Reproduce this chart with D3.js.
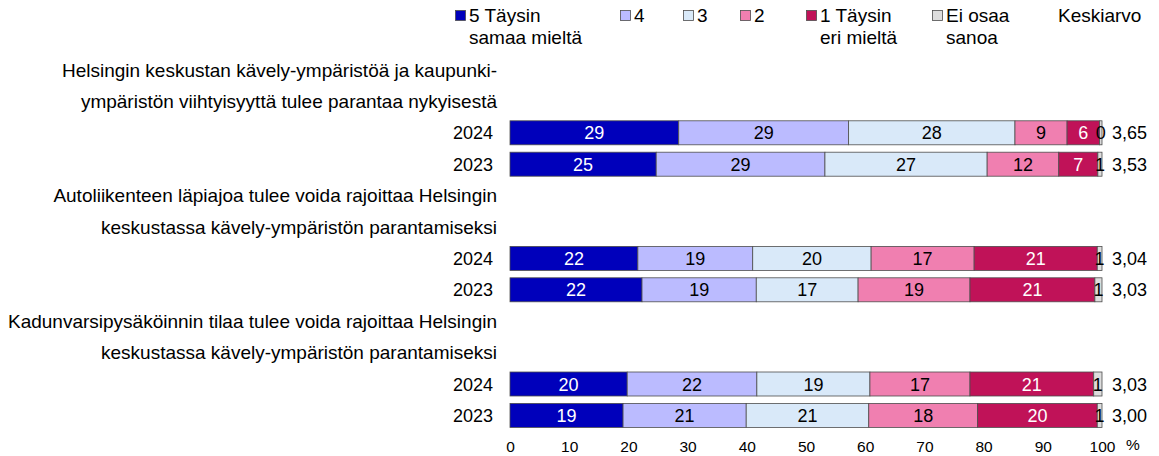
<!DOCTYPE html>
<html>
<head>
<meta charset="utf-8">
<script src="https://cdn.jsdelivr.net/npm/d3@7"></script>
<style>
  body { margin: 0; background: #fff; }
  svg text { font-family: "Liberation Sans", Arial, sans-serif; }
</style>
</head>
<body>
<div id="chart"></div>
<script>
var width = 1159, height = 456;

// answer categories (legend order)
var categories = ["5 Täysin samaa mieltä", "4", "3", "2", "1 Täysin eri mieltä", "Ei osaa sanoa"];
var colors = ["#0000bb", "#bbbbff", "#d9e9f9", "#f07fb0", "#c01258", "#dddddd"];
var whiteText = [true, false, false, false, true, false];

// statements, two text lines each
var statements = [
  ["Helsingin keskustan kävely-ympäristöä ja kaupunki-", "ympäristön viihtyisyyttä tulee parantaa nykyisestä"],
  ["Autoliikenteen läpiajoa tulee voida rajoittaa Helsingin", "keskustassa kävely-ympäristön parantamiseksi"],
  ["Kadunvarsipysäköinnin tilaa tulee voida rajoittaa Helsingin", "keskustassa kävely-ympäristön parantamiseksi"]
];
var years = ["2024", "2023"];

// shares in % (rounded numbers are printed)
var values2024 = [
  [28.5, 28.7, 28.1, 8.8, 5.5, 0.4],
  [21.6, 19.4, 20.0, 17.4, 20.8, 0.8],
  [19.8, 21.9, 19.1, 16.9, 20.9, 1.4]
];
var values2023 = [
  [24.7, 28.5, 27.4, 12.1, 6.6, 0.7],
  [22.3, 19.3, 17.2, 18.9, 21.1, 1.2],
  [19.1, 20.8, 20.7, 18.4, 20.2, 0.8]
];
var means2024 = ["3,65", "3,04", "3,03"];
var means2023 = ["3,53", "3,03", "3,00"];
var xTicks = [0, 10, 20, 30, 40, 50, 60, 70, 80, 90, 100];

var svg = d3.select("#chart").append("svg")
    .attr("width", width)
    .attr("height", height);

// rows: 2 title lines + 2 year bars for each statement
var rows = [];
statements.forEach(function(s, i) {
  rows.push({key: "t" + i + "a", type: "title", text: s[0]});
  rows.push({key: "t" + i + "b", type: "title", text: s[1]});
  rows.push({key: "b" + i + "a", type: "bar", year: years[0], values: values2024[i], mean: means2024[i]});
  rows.push({key: "b" + i + "b", type: "bar", year: years[1], values: values2023[i], mean: means2023[i]});
});

var x = d3.scaleLinear().domain([0, 100]).range([510, 1102]);
var y = d3.scalePoint()
    .domain(rows.map(function(d) { return d.key; }))
    .range([54.3, 431.1])
    .padding(0.5);
var barH = 24;
var fs = "19px";

// titles
svg.selectAll(".title")
    .data(rows.filter(function(d) { return d.type == "title"; }))
    .enter().append("text")
    .attr("class", "title")
    .attr("x", 497)
    .attr("y", function(d) { return y(d.key) + 6.5; })
    .attr("text-anchor", "end")
    .style("font-size", fs)
    .attr("fill", "#000")
    .text(function(d) { return d.text; });

var barRows = rows.filter(function(d) { return d.type == "bar"; });

svg.selectAll(".year")
    .data(barRows)
    .enter().append("text")
    .attr("class", "year")
    .attr("x", 493)
    .attr("y", function(d) { return y(d.key) + 6.5; })
    .attr("text-anchor", "end")
    .style("font-size", "18px")
    .text(function(d) { return d.year; });

var g = svg.selectAll(".row")
    .data(barRows)
    .enter().append("g")
    .attr("class", "row")
    .attr("transform", function(d) { return "translate(0," + (y(d.key) - barH / 2) + ")"; });

g.each(function(d) {
  var row = d3.select(this);
  var acc = 0;
  var segs = d.values.map(function(v, i) {
    var s = {v: v, i: i, x0: acc};
    acc += v;
    return s;
  });
  row.selectAll("rect")
      .data(segs)
      .enter().append("rect")
      .attr("x", function(s) { return x(s.x0); })
      .attr("y", 0)
      .attr("width", function(s) { return x(s.x0 + s.v) - x(s.x0); })
      .attr("height", barH)
      .attr("fill", function(s) { return colors[s.i]; })
      .attr("stroke", "#4d4d4d")
      .attr("stroke-width", 0.8);
  row.selectAll("text.lab")
      .data(segs)
      .enter().append("text")
      .attr("class", "lab")
      .attr("x", function(s) { return x(s.x0 + s.v / 2); })
      .attr("y", barH / 2 + 6.5)
      .attr("text-anchor", "middle")
      .style("font-size", "18px")
      .attr("fill", function(s) { return whiteText[s.i] && s.v > 2 ? "#fff" : "#000"; })
      .text(function(s) { return Math.round(s.v); });
  row.append("text")
      .attr("x", 1112)
      .attr("y", barH / 2 + 6.5)
      .style("font-size", "18px")
      .text(d.mean);
});

// x axis
var xAxis = svg.append("g")
    .attr("transform", "translate(0,437)")
    .call(d3.axisBottom(x).tickValues(xTicks).tickSize(0).tickPadding(4));
xAxis.select(".domain").remove();
xAxis.selectAll("text")
    .style("font-size", "15.5px")
    .style("font-family", "Liberation Sans, Arial, sans-serif")
    .attr("fill", "#000");
svg.append("text")
    .attr("x", 1126)
    .attr("y", 450)
    .style("font-size", "15.5px")
    .text("%");

// legend
var legendX = [455, 620, 683, 740, 806, 932];
var legend = svg.selectAll(".leg")
    .data(categories)
    .enter().append("g")
    .attr("class", "leg")
    .attr("transform", function(d, i) { return "translate(" + legendX[i] + ",0)"; });
legend.append("rect")
    .attr("x", 0.5).attr("y", 10.5)
    .attr("width", 10).attr("height", 10)
    .attr("fill", function(d, i) { return colors[i]; })
    .attr("stroke", "#4d4d4d")
    .attr("stroke-width", 0.8);
legend.each(function(d, i) {
  var words = d.split(" ");
  var lines = words.length > 1 ? [words.slice(0, 2).join(" "), words.slice(2).join(" ")] : [d];
  if (i == 5) lines = ["Ei osaa", "sanoa"];
  d3.select(this).selectAll("text")
      .data(lines.filter(function(l) { return l; }))
      .enter().append("text")
      .attr("x", 14)
      .attr("y", function(l, j) { return 22 + j * 22; })
      .style("font-size", fs)
      .text(function(l) { return l; });
});
svg.append("text")
    .attr("x", 1058)
    .attr("y", 22)
    .style("font-size", fs)
    .text("Keskiarvo");
</script>
</body>
</html>
